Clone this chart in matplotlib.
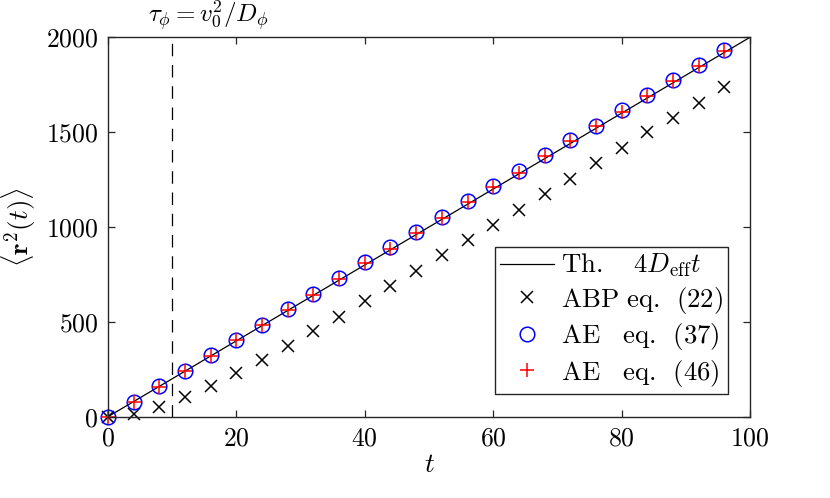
import matplotlib
matplotlib.use('Agg')
import matplotlib.pyplot as plt

plt.rcParams['font.family'] = 'cmr10'
plt.rcParams['mathtext.fontset'] = 'cm'
plt.rcParams['axes.formatter.use_mathtext'] = True
plt.rcParams['axes.unicode_minus'] = False

# sample times
t = [0, 4, 8, 12, 16, 20, 24, 28, 32, 36, 40, 44, 48,
     52, 56, 60, 64, 68, 72, 76, 80, 84, 88, 92, 96]

# theory line 4 D_eff t
t_th = [0, 100]
msd_th = [0, 2000]

# ABP simulation, eq. (22)
msd_abp = [0, 15, 50, 102, 160, 228, 298, 372, 450, 528, 610, 690, 770,
           852, 930, 1012, 1092, 1175, 1255, 1338, 1418, 1500, 1576, 1656, 1737]

# AE, eq. (37)
msd_ae37 = [0, 80, 161, 243, 324, 405, 485, 567, 648, 730, 815, 896, 975,
            1055, 1135, 1215, 1297, 1378, 1458, 1535, 1615, 1695, 1775, 1855, 1932]

# AE, eq. (46)
msd_ae46 = [0, 78, 159, 240, 322, 402, 482, 564, 644, 727, 808, 885, 970,
            1050, 1130, 1210, 1285, 1372, 1452, 1530, 1608, 1690, 1770, 1850, 1930]

tau_phi = 10

axcol = '#262626'
fs = 18.5

fig = plt.figure(figsize=(8.3, 4.98), dpi=100)
ax = fig.add_axes([108 / 830, 1 - 416.7 / 498, 642 / 830, 379.4 / 498])

ax.plot(t_th, msd_th, '-', color='k', lw=0.9,
        label=r'$\mathrm{Th.}\;\;\;\;4D_{\mathrm{eff}}t$')
ax.plot(t, msd_abp, 'x', color='k', ms=8.6, mew=1.1, ls='none', clip_on=False,
        label=r'$\mathrm{ABP}\ \mathrm{eq.}\enspace(22)$')
ax.plot(t, msd_ae37, 'o', color='b', mfc='none', ms=10.5, mew=1.1, ls='none',
        clip_on=False, label=r'$\mathrm{AE}\quad\mathrm{eq.}\enspace(37)$')
ax.plot(t, msd_ae46, '+', color='r', ms=10.5, mew=1.1, ls='none',
        clip_on=False, label=r'$\mathrm{AE}\quad\mathrm{eq.}\enspace(46)$')

ax.axvline(tau_phi, color='k', lw=0.9, dashes=(10, 7))
ax.text(6.2, 2075, r'$\tau_\phi = v_0^2/D_\phi$', fontsize=fs - 0.5,
        va='baseline', ha='left')

ax.set_xlim(0, 100)
ax.set_ylim(0, 2000)
ax.set_xticks([0, 20, 40, 60, 80, 100])
ax.set_yticks([0, 500, 1000, 1500, 2000])
ax.tick_params(direction='in', top=True, right=True, length=5, width=0.9,
               colors=axcol, labelcolor='k', labelsize=fs, pad=7)
for s in ax.spines.values():
    s.set_color(axcol)
    s.set_linewidth(1.0)

ax.set_xlabel(r'$t$', fontsize=fs + 1, labelpad=2)
ax.set_ylabel(r'$\langle \mathbf{r}^2(t) \rangle$', fontsize=fs + 1, labelpad=6)

leg = ax.legend(loc='lower right', bbox_to_anchor=(0.966, 0.06), borderaxespad=0,
                fontsize=19.3, fancybox=False, framealpha=1, edgecolor=axcol,
                handlelength=2.0, handletextpad=0.25, labelspacing=0.2,
                borderpad=0.2, numpoints=1)
leg.get_frame().set_linewidth(1.0)

fig.savefig('out.png', dpi=100)
